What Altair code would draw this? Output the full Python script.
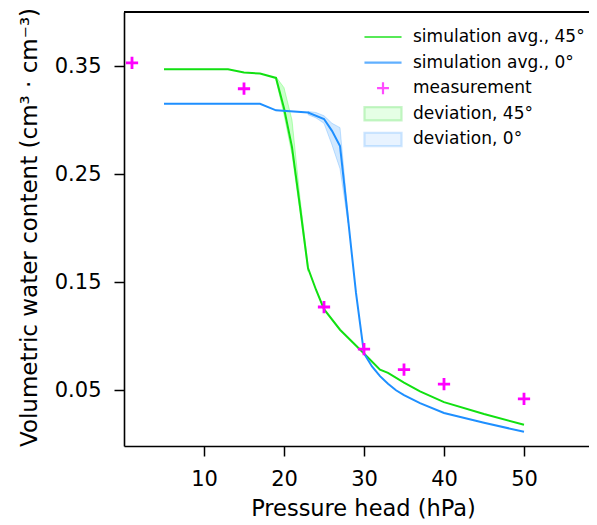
import altair as alt
import pandas as pd

# ---- data ----
sim45_x = [5, 13, 15, 17, 19, 20, 21, 22, 23, 24, 25, 27, 30, 32, 33, 35, 37, 40, 45, 50]
sim45_y = [0.347, 0.347, 0.344, 0.343, 0.339, 0.311, 0.275, 0.220, 0.163, 0.143, 0.125,
           0.106, 0.084, 0.069, 0.066, 0.057, 0.049, 0.039, 0.028, 0.018]

sim0_x = [5, 17, 19, 23, 25, 26, 27, 28, 29, 30, 31, 32, 33, 34, 35, 37, 40, 45, 50]
sim0_y = [0.315, 0.315, 0.309, 0.307, 0.301, 0.290, 0.276, 0.209, 0.140, 0.084, 0.072,
          0.063, 0.056, 0.050, 0.0455, 0.038, 0.029, 0.020, 0.0115]

dev45_x = [19, 20, 21, 22, 23]
dev45_lo = [0.337, 0.305, 0.268, 0.215, 0.160]
dev45_hi = [0.340, 0.330, 0.300, 0.228, 0.166]

dev0_x = [23, 24, 25, 26, 27, 28]
dev0_lo = [0.305, 0.302, 0.297, 0.277, 0.255, 0.205]
dev0_hi = [0.308, 0.307, 0.304, 0.297, 0.293, 0.212]

meas_x = [1, 15, 25, 30, 35, 40, 50]
meas_y = [0.353, 0.329, 0.127, 0.088, 0.069, 0.0556, 0.042]

legend_names = ["simulation avg., 45°", "simulation avg., 0°", "measurement",
                "deviation, 45°", "deviation, 0°"]

x_ticks = [10, 20, 30, 40, 50]
y_ticks = [0.05, 0.15, 0.25, 0.35]

# ---- styling ----
GREEN = "#11e011"
BLUE = "#1e8fff"
MAGENTA = "#ff00ff"
FONT = "DejaVu Sans"
W, H = 465, 434

df45 = pd.DataFrame({"x": sim45_x, "y": sim45_y})
df0 = pd.DataFrame({"x": sim0_x, "y": sim0_y})
dfd45 = pd.DataFrame({"x": dev45_x, "lo": dev45_lo, "hi": dev45_hi})
dfd0 = pd.DataFrame({"x": dev0_x, "lo": dev0_lo, "hi": dev0_hi})
dfm = pd.DataFrame({"x": meas_x, "y": meas_y})
dfl = pd.DataFrame({"series": legend_names, "x": [None] * 5, "y": [None] * 5})

xs = alt.Scale(domain=[0, W / 8.0], nice=False, zero=False)
ys = alt.Scale(domain=[-0.0016, 0.4], nice=False, zero=False)

x_enc = alt.X("x:Q", scale=xs, axis=alt.Axis(
    values=x_ticks, title="Pressure head (hPa)", labelPadding=12,
    titleX=239, titleY=69, titleBaseline="alphabetic", titleAlign="center"))
y_enc = alt.Y("y:Q", scale=ys, axis=alt.Axis(
    values=y_ticks, format=".2f", title="Volumetric water content (cm³ · cm⁻³)",
    labelPadding=13, titleX=-88, titleY=215, titleAngle=270, titleFontSize=23,
    titleBaseline="alphabetic", titleAlign="center"))

band45 = alt.Chart(dfd45).mark_area(
    fill="#00ff00", fillOpacity=0.2, stroke="#00ff00", strokeOpacity=0.25, strokeWidth=1
).encode(x=alt.X("x:Q", scale=xs), y=alt.Y("lo:Q", scale=ys), y2="hi:Q")

band0 = alt.Chart(dfd0).mark_area(
    fill=BLUE, fillOpacity=0.2, stroke=BLUE, strokeOpacity=0.25, strokeWidth=1
).encode(x=alt.X("x:Q", scale=xs), y=alt.Y("lo:Q", scale=ys), y2="hi:Q")

line45 = alt.Chart(df45).mark_line(color=GREEN, strokeWidth=2).encode(x=x_enc, y=y_enc)
line0 = alt.Chart(df0).mark_line(color=BLUE, strokeWidth=2).encode(x=x_enc, y=y_enc)

meas = alt.Chart(dfm).mark_point(
    shape="M-1,0L1,0M0,-1L0,1", size=150, stroke=MAGENTA, strokeWidth=2.8, filled=False,
    opacity=1
).encode(x=x_enc, y=y_enc)

top = alt.Chart(dfm).mark_rule(color="black", strokeWidth=1.6).encode(
    x=alt.value(0), x2=alt.value(W), y=alt.value(0))

# legend symbols: size 289 -> radius 8.5 px; paths extend beyond +-1.
# Each path starts with the same invisible extent so every legend row has equal height.
EXT = "M-2.18,-1.1M2.18,1.1"
LINE_P = EXT + "M-2.18,0L2.18,0"
CROSS_P = EXT + "M-0.7,0L0.7,0M0,-0.7L0,0.7"
RECT_P = EXT + "M-2.18,-0.78L2.18,-0.78L2.18,0.78L-2.18,0.78Z"

leg_dom = legend_names
leg = alt.Legend(title=None, orient="none", legendX=249, legendY=15, padding=0,
                 labelFont=FONT, labelFontSize=17, labelColor="black", labelLimit=400,
                 labelOffset=20, rowPadding=-2.4, symbolSize=289,
                 symbolStrokeWidth=2.2)
legend_layer = alt.Chart(dfl).mark_point(filled=False).encode(
    x=alt.X("x:Q", scale=xs), y=alt.Y("y:Q", scale=ys),
    shape=alt.Shape("series:N", scale=alt.Scale(domain=leg_dom, range=[
        LINE_P, LINE_P, CROSS_P, RECT_P, RECT_P]), legend=leg, sort=leg_dom),
    stroke=alt.Stroke("series:N", scale=alt.Scale(domain=leg_dom, range=[
        GREEN, BLUE, MAGENTA, "rgba(0,210,0,0.3)", "rgba(30,143,255,0.3)"]),
        legend=leg, sort=leg_dom),
    fill=alt.Fill("series:N", scale=alt.Scale(domain=leg_dom, range=[
        "transparent", "transparent", "transparent",
        "rgba(0,255,0,0.2)", "rgba(30,143,255,0.2)"]),
        legend=leg, sort=leg_dom),
)

chart = alt.layer(band45, band0, line45, line0, meas, top, legend_layer).properties(
    width=W, height=H,
    autosize=alt.AutoSizeParams(type="none"),
    padding={"left": 116, "top": 4, "right": 0, "bottom": 77},
).configure_view(stroke=None).configure_axis(
    grid=False, domainColor="black", domainWidth=1.6, tickColor="black",
    tickWidth=1.5, tickSize=10, labelFont=FONT, labelFontSize=21, labelColor="black",
    titleFont=FONT, titleFontSize=22.5, titleFontWeight="normal", titleColor="black"
)

chart.save("out.html", embed_options={"renderer": "svg", "actions": False})
